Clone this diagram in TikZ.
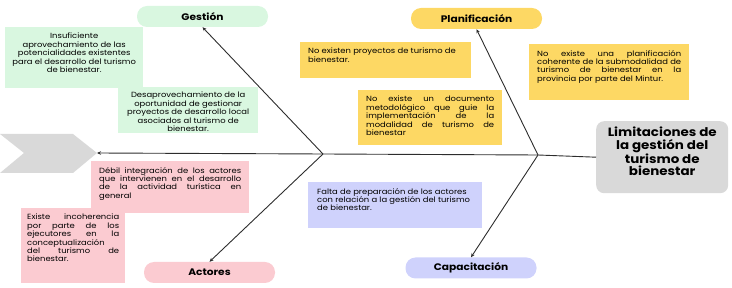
\documentclass[tikz,border=0pt]{standalone}
\usepackage{fontspec}
\setmainfont{Poppins}[FakeStretch=1.12]
\usetikzlibrary{arrows.meta}

\definecolor{gestfill}{RGB}{217,247,224}
\definecolor{planfill}{RGB}{253,216,100}
\definecolor{actfill}{RGB}{251,203,209}
\definecolor{capfill}{RGB}{207,210,252}
\definecolor{headfill}{RGB}{217,217,217}
\definecolor{bonecol}{RGB}{45,45,45}

\newcommand{\causetext}[3]{\parbox[c][#1][t]{#2}{#3}}

\begin{document}
\begin{tikzpicture}[x=1pt, y=-1pt,
    pill/.style={rounded corners=10pt, minimum width=131pt, minimum height=21pt,
        inner sep=0pt, font=\bfseries\fontsize{9.5}{11}\selectfont},
    causebox/.style={anchor=north west, inner xsep=8pt, inner ysep=6pt,
        font=\fontsize{7.5}{8.4}\selectfont},
    bone/.style={draw=bonecol, line width=0.9pt, -{Stealth[length=4pt, width=3.5pt]}}]
    \useasboundingbox (0,0) rectangle (732,288);

    % tail of the fish
    \fill[headfill] (0,134) -- (73,134) -- (97,153) -- (73,173) -- (0,173) -- (24,153) -- cycle;
    \coordinate (tip) at (97,153);

    % head
    \node[anchor=north west, fill=headfill, rounded corners=8pt, inner sep=6pt,
        font=\bfseries\fontsize{12}{12.3}\selectfont] (head) at (596,121)
        {\causetext{60pt}{120pt}{\centering Limitaciones de\\ la gestión del\\ turismo de\\ bienestar}};

    % categories
    \node[pill, fill=gestfill] (gestion) at (202.5,16.5) {Gestión};
    \node[pill, fill=planfill] (planif) at (476.5,18.5) {Planificación};
    \node[pill, fill=actfill] (actores) at (209.5,272.5) {Actores};
    \node[pill, fill=capfill] (capac) at (471,268) {Capacitación};

    % causes
    \node[causebox, fill=gestfill, inner xsep=7pt, inner ysep=6pt] (g1) at (5,27)
        {\causetext{49pt}{124pt}{\centering Insuficiente\\ aprovechamiento de las\\ potencialidades existentes\\ para el desarrollo del turismo\\ de bienestar.}};
    \node[causebox, fill=gestfill, inner ysep=5pt] (g2) at (118,87)
        {\causetext{36pt}{124pt}{\centering Desaprovechamiento de la\\ oportunidad de gestionar\\ proyectos de desarrollo local\\ asociados al turismo de\\ bienestar.}};
    \node[causebox, fill=planfill] (p1) at (300,42)
        {\causetext{24pt}{155pt}{\raggedright No existen proyectos de turismo de\\ bienestar.}};
    \node[causebox, fill=planfill] (p2) at (358,90)
        {\causetext{43pt}{128pt}{No existe un documento\linebreak metodológico que guie la\linebreak implementación de la\linebreak modalidad de turismo de\linebreak bienestar}};
    \node[causebox, fill=planfill] (p3) at (529,44)
        {\causetext{44pt}{144pt}{No existe una planificación\linebreak coherente de la submodalidad de\linebreak turismo de bienestar en la\linebreak provincia por parte del Mintur.}};
    \node[causebox, fill=actfill] (a1) at (91,161)
        {\causetext{40pt}{142pt}{Débil integración de los actores\linebreak que intervienen en el desarrollo\linebreak de la actividad turística en\linebreak general}};
    \node[causebox, fill=actfill, inner xsep=6pt] (a2) at (21,208)
        {\causetext{63pt}{92pt}{Existe incoherencia\linebreak por parte de los\linebreak ejecutores en la\linebreak conceptualización\\ del turismo de\linebreak bienestar.}};
    \node[causebox, fill=capfill, inner xsep=9pt] (c1) at (308,182)
        {\causetext{34pt}{156pt}{\raggedright Falta de preparación de los actores\\ con relación a la gestión del turismo\\ de bienestar.}};

    % bones
    \coordinate (jl) at (323,154);
    \coordinate (jr) at (538,155);
    \draw[bone] (head.west) -- (jr) -- (jl) -- (tip);
    \draw[bone] (jl) -- (gestion.south);
    \draw[bone] (jl) -- (actores.north);
    \draw[bone] (jr) -- (planif.south);
    \draw[bone] (jr) -- (capac.north);
\end{tikzpicture}
\end{document}
